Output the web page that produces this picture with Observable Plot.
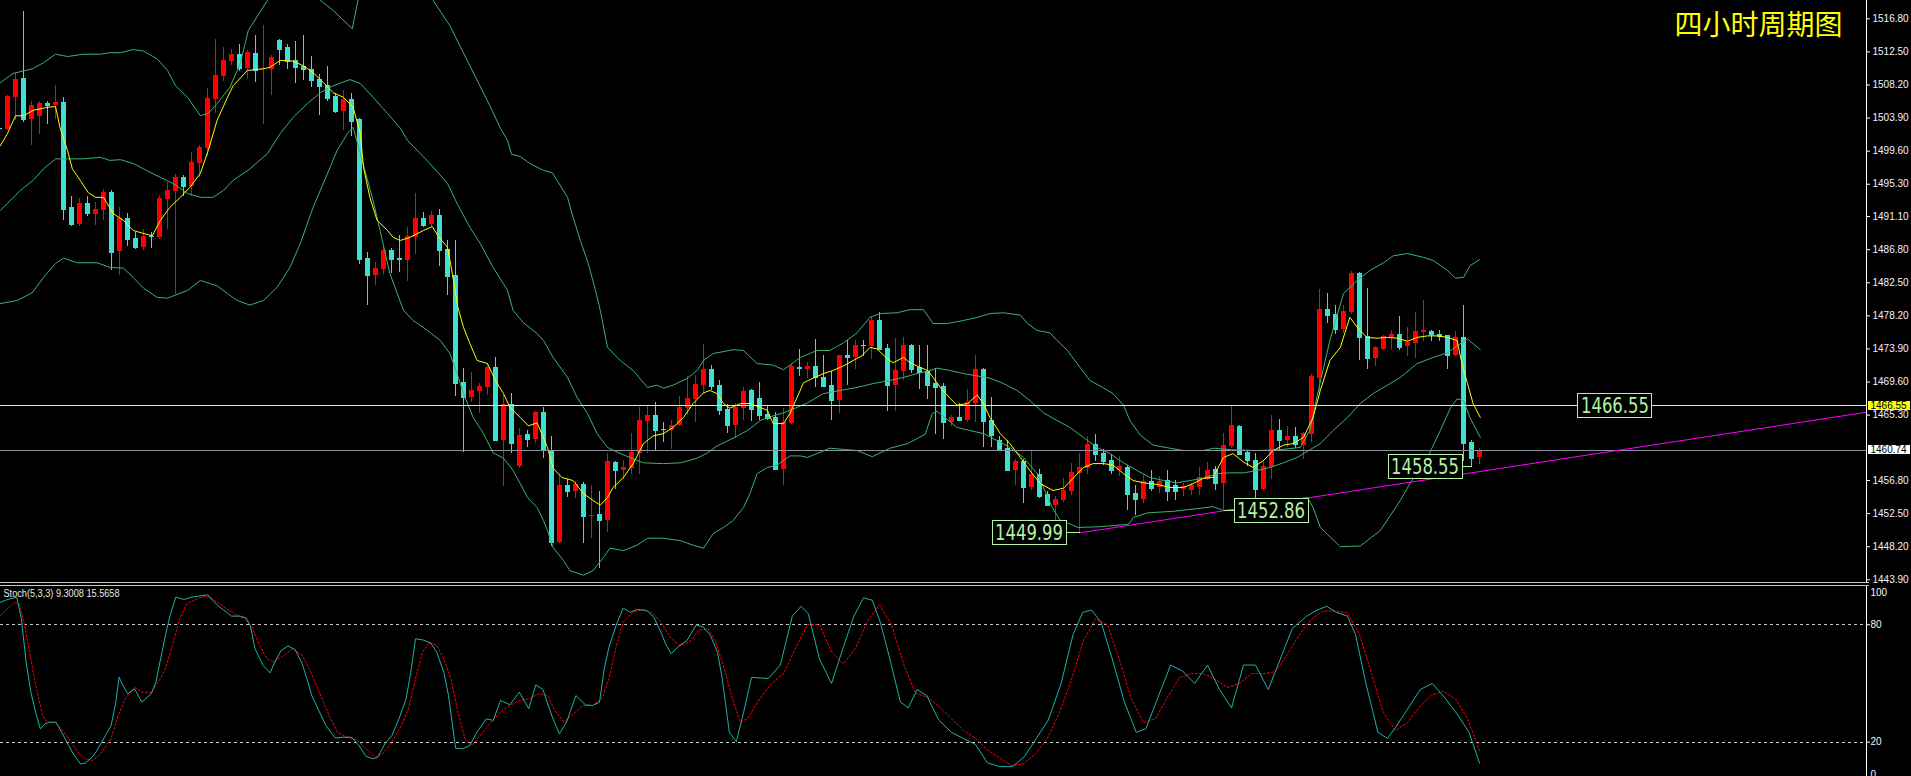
<!DOCTYPE html>
<html>
<head>
<meta charset="utf-8">
<script src="https://cdn.jsdelivr.net/npm/d3@7"></script>
<script src="https://cdn.jsdelivr.net/npm/@observablehq/plot@0.6"></script>
<style>
html, body { margin:0; padding:0; background:#000; overflow:hidden; }
#chart { width:1911px; height:776px; background:#000; position:relative; }
#chart svg { display:block; }
.sep { width:1869px; height:2px; border-top:1px solid #c8c8c8; border-bottom:1px solid #c8c8c8; }
</style>
</head>
<body>
<div id="chart"></div>
<script>
// ---------------- DATA ----------------
const titleText = "四小时周期图";
const stochTitle = "Stoch(5,3,3) 9.3008 15.5658";
const firstIndex = -1;
const opens = [1502.6,1502.4,1506.6,1509.0,1503.7,1504.1,1505.8,1505.5,1505.9,1492.3,1490.1,1492.8,1491.4,1491.9,1494.2,1486.6,1490.9,1488.3,1487.1,1488.55,1488.4,1493.3,1494.4,1496.2,1495.0,1498.0,1500.0,1506.3,1509.3,1511.3,1512.2,1510.3,1512.3,1510.2,1510.2,1514.0,1513.1,1511.4,1510.6,1510.2,1508.9,1508.1,1506.7,1504.8,1506.3,1503.7,1485.7,1483.4,1484.2,1486.7,1485.6,1485.4,1488.4,1490.9,1490.1,1491.2,1486.8,1483.4,1469.5,1467.6,1468.4,1468.9,1471.5,1462.0,1466.7,1458.6,1462.8,1462.1,1465.6,1460.7,1448.8,1456.2,1455.4,1456.3,1452.15,1452.4,1451.6,1459.1,1458.1,1458.4,1460.3,1464.5,1465.3,1463.45,1463.3,1464.0,1466.2,1467.3,1469.2,1471.2,1469.2,1466.0,1464.0,1466.2,1468.5,1467.5,1465.4,1465.0,1458.2,1464.2,1471.5,1471.2,1471.6,1470.2,1469.2,1467.2,1473.0,1472.8,1474.4,1474.2,1477.6,1474.0,1469.2,1471.0,1474.4,1471.5,1471.0,1469.4,1469.0,1464.3,1465.0,1464.6,1466.8,1471.2,1464.6,1462.0,1461.0,1458.1,1459.3,1455.9,1457.6,1455.0,1453.6,1454.2,1455.4,1457.7,1458.4,1461.5,1460.3,1459.4,1458.1,1458.5,1455.1,1454.3,1456.7,1455.9,1456.8,1456.2,1455.6,1455.5,1455.9,1456.9,1458.2,1456.4,1461.2,1463.8,1460.4,1459.4,1455.6,1458.5,1463.3,1462.0,1462.5,1461.4,1462.8,1470.1,1479.0,1478.4,1476.4,1478.6,1483.7,1475.5,1472.7,1473.8,1475.3,1475.8,1474.2,1474.6,1476.0,1476.2,1475.8,1475.65,1473.05,1475.4,1461.7,1459.8];
const highs = [1503.0,1506.8,1509.7,1517.8,1506.1,1506.1,1506.1,1508.1,1506.6,1493.7,1493.5,1493.7,1492.9,1494.6,1494.5,1492.3,1491.5,1489.0,1489.4,1489.0,1493.8,1495.5,1496.6,1496.4,1499.4,1500.3,1507.7,1514.1,1513.1,1512.8,1513.5,1512.7,1514.6,1515.9,1512.0,1514.1,1513.5,1513.9,1514.6,1511.9,1509.6,1510.6,1507.1,1507.5,1507.1,1503.8,1486.4,1485.1,1487.2,1487.0,1488.6,1489.7,1494.1,1491.6,1491.8,1492.0,1488.0,1488.0,1471.4,1470.8,1469.4,1472.0,1472.8,1467.9,1468.1,1463.6,1463.3,1465.8,1466.3,1462.5,1457.6,1456.9,1456.7,1456.5,1456.2,1455.4,1460.3,1459.3,1459.4,1462.9,1466.3,1466.6,1466.9,1464.3,1464.6,1467.7,1470.3,1470.5,1474.5,1471.8,1469.8,1466.7,1466.8,1468.9,1468.6,1469.5,1466.4,1465.6,1466.2,1471.9,1473.8,1472.1,1475.1,1473.1,1471.0,1473.1,1475.0,1475.0,1475.0,1478.1,1478.6,1474.5,1475.3,1475.4,1474.5,1474.4,1474.4,1471.4,1469.4,1465.3,1466.8,1468.6,1473.1,1471.4,1467.6,1462.5,1462.0,1459.5,1459.5,1460.6,1458.2,1455.4,1454.7,1457.1,1459.0,1460.3,1462.5,1462.8,1460.8,1460.2,1459.9,1458.8,1456.2,1457.5,1458.1,1457.3,1458.1,1456.8,1456.4,1456.4,1458.5,1459.1,1458.6,1462.9,1466.4,1464.0,1460.7,1460.3,1459.4,1465.3,1464.7,1463.8,1463.7,1463.0,1470.6,1481.6,1481.1,1479.6,1479.6,1483.9,1483.8,1481.8,1474.2,1475.6,1476.3,1478.1,1476.7,1478.6,1480.2,1476.3,1476.3,1475.7,1476.2,1479.6,1462.0,1461.0];
const lows = [1502.3,1502.3,1503.6,1503.3,1500.3,1501.8,1503.1,1503.7,1490.6,1489.8,1489.8,1491.1,1489.9,1490.6,1484.1,1483.4,1487.2,1486.8,1486.7,1487.0,1488.1,1489.4,1481.0,1493.7,1493.7,1496.2,1498.9,1504.5,1508.7,1510.7,1510.0,1508.9,1508.5,1503.1,1506.8,1510.7,1510.2,1508.4,1508.8,1507.9,1504.2,1506.1,1504.5,1502.3,1501.5,1484.9,1479.6,1482.1,1483.6,1483.7,1483.8,1482.7,1486.2,1489.7,1489.8,1484.6,1480.8,1467.7,1460.4,1466.9,1465.5,1467.9,1461.9,1456.0,1460.3,1458.4,1461.1,1461.6,1459.7,1448.2,1448.6,1454.6,1454.5,1448.6,1449.3,1445.4,1450.1,1455.6,1456.9,1457.6,1457.6,1460.3,1460.6,1461.7,1460.8,1463.8,1465.3,1464.3,1468.0,1468.5,1465.3,1462.9,1462.3,1464.6,1464.5,1464.6,1464.6,1458.1,1456.2,1464.1,1470.3,1470.1,1468.9,1468.9,1464.6,1465.5,1469.2,1471.2,1472.9,1472.5,1473.7,1465.8,1465.8,1469.8,1470.7,1468.6,1467.3,1462.8,1462.1,1463.8,1464.5,1464.3,1464.3,1461.1,1461.1,1460.6,1458.0,1456.2,1453.8,1455.5,1454.5,1453.4,1451.5,1454.0,1454.9,1449.99,1457.6,1459.3,1458.8,1457.6,1457.3,1452.9,1452.3,1453.8,1455.4,1455.1,1454.1,1454.2,1454.7,1454.9,1454.9,1456.8,1455.5,1452.86,1461.0,1460.1,1458.6,1453.7,1455.5,1456.9,1460.7,1461.1,1461.0,1459.5,1461.7,1468.1,1477.2,1475.8,1475.9,1478.4,1472.4,1471.2,1471.6,1473.7,1473.7,1473.7,1472.9,1472.7,1474.9,1474.9,1474.9,1471.2,1472.9,1459.3,1458.55,1458.9];
const closes = [1502.55,1506.7,1508.9,1503.7,1505.5,1505.8,1505.5,1505.9,1492.0,1490.1,1492.8,1491.5,1492.0,1494.2,1486.4,1490.9,1488.1,1487.1,1488.5,1488.45,1493.5,1494.5,1496.2,1495.0,1498.1,1500.1,1506.4,1509.4,1511.4,1512.2,1510.3,1512.4,1510.1,1510.35,1511.8,1512.8,1511.3,1510.5,1510.2,1508.8,1508.0,1506.4,1504.8,1506.3,1503.5,1485.5,1483.4,1484.4,1486.7,1485.5,1485.5,1488.5,1490.9,1489.9,1491.2,1486.7,1483.3,1469.4,1467.6,1468.5,1469.0,1471.5,1462.0,1466.7,1461.6,1462.7,1462.1,1465.6,1460.7,1448.8,1456.2,1455.4,1456.3,1452.1,1452.3,1451.6,1459.3,1458.1,1458.5,1460.4,1464.6,1465.3,1463.3,1463.4,1464.0,1466.3,1467.5,1469.3,1471.2,1469.0,1465.9,1464.0,1466.3,1468.4,1466.0,1465.3,1464.9,1458.2,1464.3,1471.6,1471.4,1471.6,1470.2,1469.0,1467.2,1473.05,1472.85,1474.4,1474.3,1477.6,1473.8,1469.2,1471.1,1474.4,1471.2,1470.8,1469.2,1468.9,1464.3,1465.0,1464.6,1466.9,1471.2,1464.5,1462.7,1460.8,1458.1,1459.3,1455.9,1457.6,1454.7,1453.6,1454.3,1455.5,1457.8,1458.5,1461.5,1460.2,1459.3,1458.1,1458.6,1455.0,1454.3,1456.7,1455.8,1456.7,1455.4,1455.4,1456.0,1456.2,1457.2,1458.1,1456.4,1461.4,1464.0,1460.2,1459.4,1455.6,1458.6,1463.3,1462.0,1462.5,1461.5,1462.9,1470.3,1479.0,1478.3,1476.4,1478.8,1483.7,1475.4,1472.7,1474.1,1475.5,1475.8,1474.1,1474.7,1476.2,1476.3,1475.8,1475.5,1473.05,1475.4,1461.6,1459.7,1460.74];

// Bollinger bands and moving average as [candle index, price]
const upperBand = [[-0.9,1508.5],[0.7,1509.7],[3.1,1510.3],[4.5,1511.1],[6,1512.2],[7.5,1511.9],[9.5,1512.2],[11.6,1512.2],[12.8,1512.4],[14.1,1512.4],[15.7,1512.8],[17,1512.6],[18.7,1511.6],[20,1510.1],[21,1508.1],[22.5,1506.6],[24.1,1504.2],[25.1,1504.5],[26.2,1505.8],[27.8,1507.9],[29.1,1511.0],[30.1,1515.3],[32.5,1519.2],[35,1524],[38.5,1521],[39.1,1519.2],[40.7,1517.9],[43.1,1515.5],[43.8,1519.2],[45,1523],[50,1526],[53.2,1519.2],[55.3,1515.9],[57.8,1510.7],[60.3,1505.5],[61.6,1502.6],[62.5,1501.0],[63,1499.2],[64.1,1498.9],[65.3,1498.0],[67,1497.1],[68.1,1496.8],[68.7,1495.8],[70,1493.6],[70.7,1491.0],[71.6,1488.0],[72.6,1485.0],[73.5,1481.5],[74.1,1478.9],[75,1474.1],[76.6,1472.4],[78.2,1471.1],[80,1468.9],[81.2,1469.2],[82,1468.8],[83.2,1469.2],[85,1470.1],[86.2,1471.1],[87,1472.4],[88.2,1473.3],[90.7,1473.8],[92,1473.7],[93.7,1472.0],[95.7,1471.8],[97,1471.2],[98.2,1472.1],[99.1,1472.8],[101.2,1473.7],[102.8,1473.7],[104.5,1474.7],[106.2,1476.0],[107.8,1478.0],[109.1,1478.5],[111.2,1478.6],[112.8,1479.0],[114.5,1479.0],[115.7,1477.2],[117.5,1477.2],[119.5,1477.6],[121.2,1478.0],[122.8,1478.5],[124.5,1478.6],[126.6,1478.3],[127.5,1477.2],[128.7,1476.3],[130.3,1476.0],[131.2,1475.0],[132.5,1473.7],[133.7,1472.0],[135.3,1469.8],[136.9,1468.9],[138.2,1468.1],[139.5,1466.6],[140.3,1464.6],[141.6,1462.7],[143.2,1461.4],[145.3,1461.0],[147,1460.7],[149.5,1460.7],[150.7,1461.0],[153,1460.8],[156,1460.7],[159,1460.8],[161.6,1461.1],[162.8,1463.3],[164,1469.2],[165.3,1475.0],[167,1481.1],[168.7,1482.8],[170.3,1484.1],[172,1485.1],[173.2,1486.0],[175,1486.3],[177,1485.8],[178.2,1485.4],[180,1484.1],[181,1483.1],[182,1483.2],[182.8,1484.7],[184,1485.5]];
const midBand = [[-0.9,1491.9],[1.6,1494.5],[3.2,1495.8],[4.5,1497.3],[6,1498.6],[7.5,1498.6],[9.5,1498.6],[11.6,1498.8],[12.8,1498.4],[14.1,1498.5],[15.7,1498.0],[17,1497.3],[19.1,1496.2],[20.7,1495.4],[22.5,1494.1],[24.1,1493.6],[25.7,1493.6],[27,1494.5],[28.2,1495.8],[30.3,1497.3],[32.5,1499.3],[34.1,1501.9],[35.7,1504.0],[37.5,1505.8],[39.1,1507.2],[40.7,1508.1],[42.8,1508.9],[44.1,1508.4],[45.7,1506.6],[47.5,1504.5],[49.1,1502.6],[50,1501.0],[52.8,1498.0],[55,1495.4],[56.2,1492.8],[57.8,1489.7],[59.1,1487.6],[60.7,1484.5],[62.5,1481.5],[63.2,1478.9],[64.5,1477.3],[66.2,1475.9],[67,1475.0],[68.2,1472.8],[70,1470.2],[71.2,1467.6],[72.5,1465.5],[73.7,1462.9],[75,1461.1],[76.6,1460.3],[79.5,1459.1],[82,1459.0],[84.1,1459.1],[86.2,1459.7],[87.5,1460.4],[88.7,1461.3],[90.7,1462.3],[92.5,1463.3],[94.1,1464.6],[95.7,1465.2],[97,1465.6],[98.7,1466.3],[100,1466.9],[102,1468.1],[104.1,1468.5],[106.2,1468.9],[108.2,1469.4],[110.3,1469.8],[112,1470.2],[113.7,1470.7],[115.3,1471.1],[116.2,1471.4],[117.8,1471.1],[119.5,1470.7],[121.2,1470.4],[122.8,1470.1],[124.5,1469.4],[126.2,1468.5],[127.8,1467.2],[129.5,1465.6],[131.2,1464.6],[132.8,1463.7],[134.5,1462.4],[136.2,1461.1],[137.8,1460.3],[139.5,1459.1],[141.2,1458.1],[142.8,1457.2],[144.5,1456.8],[146.2,1456.5],[147.8,1456.8],[149.5,1457.1],[151.2,1457.7],[152.8,1457.8],[154.5,1457.8],[156.2,1458.1],[157.8,1458.5],[159.5,1459.1],[161.2,1459.8],[164.1,1461.6],[165.7,1463.3],[167.5,1465.0],[169.1,1466.8],[170.7,1468.1],[172.5,1469.2],[174.1,1470.2],[176.2,1472.0],[178.2,1472.8],[180,1473.4],[181.2,1474.3],[182.5,1475.2],[184.1,1473.8]];
const lowerBand = [[-0.9,1479.8],[1.2,1480.2],[3.1,1481.2],[4.5,1483.2],[6,1485.0],[7,1485.7],[8.7,1485.1],[11.2,1485.1],[12.8,1484.5],[14.5,1484.4],[15.7,1483.2],[17,1481.8],[18.7,1480.6],[20,1480.5],[22.5,1481.5],[24.1,1482.8],[26.2,1482.1],[27.5,1481.1],[28.7,1480.2],[30.3,1479.6],[32,1480.2],[33.7,1481.9],[35.3,1484.5],[36.6,1487.6],[38.2,1492.3],[40,1496.7],[41.2,1499.7],[42.5,1501.9],[43.2,1502.7],[45.7,1493.2],[47.8,1483.7],[49.5,1478.9],[50.7,1477.6],[52.5,1476.3],[54.1,1475.0],[55.3,1473.3],[56.2,1470.7],[57,1468.1],[58.2,1465.0],[59.5,1462.9],[60.7,1460.4],[62,1459.7],[63.2,1458.1],[64.1,1456.4],[65,1454.6],[66.2,1453.3],[67,1451.6],[67.5,1450.3],[68.2,1448.1],[69.5,1446.4],[70.3,1445.1],[72,1444.5],[73.2,1445.1],[74.5,1446.8],[75.3,1448.0],[77,1447.7],[78.7,1448.4],[80,1449.3],[82,1449.3],[84.1,1449.0],[85.7,1448.4],[87,1448.0],[88.2,1449.9],[89.5,1450.7],[90.7,1451.6],[92,1453.3],[92.8,1455.1],[93.7,1457.7],[95,1458.5],[96.2,1458.8],[97.8,1460.0],[99.1,1460.0],[100,1459.8],[102.8,1461.0],[106.2,1460.7],[108.1,1459.9],[110.3,1461.0],[112.5,1461.6],[114.7,1462.8],[115.6,1465.5],[116.2,1465.8],[118.7,1463.7],[120.3,1463.3],[122,1462.9],[123.7,1462.0],[125.3,1461.1],[127,1459.8],[128.7,1457.7],[129.5,1455.9],[130.5,1453.5],[131.6,1451.6],[132.5,1451.3],[133.8,1450.7],[136.6,1450.8],[140,1451.1],[140.3,1451.3],[140.7,1452.0],[142.5,1452.6],[145.7,1452.8],[149.1,1453.2],[150.7,1453.4],[152,1452.9],[153.2,1453.0],[156.6,1453.6],[160.3,1454.2],[162.5,1454.6],[163.2,1453.3],[164.1,1450.7],[166.6,1448.2],[169.1,1448.3],[171.6,1450.3],[174.1,1454.2],[175.3,1456.4],[177.5,1459.8],[179.1,1463.3],[180.4,1466.3],[181.2,1467.4],[182,1467.2],[182.8,1465.0],[184.1,1462.4]];
const maLine = [[-0.9,1500.3],[0,1501.9],[1,1504.2],[2,1504.2],[3.2,1504.9],[5,1505.3],[6,1505.4],[6.6,1502.5],[7.5,1499.7],[8.1,1497.3],[9.1,1495.8],[10.1,1494.2],[11,1493.6],[12,1493.6],[13.2,1491.5],[14.5,1490.6],[15.7,1489.3],[17,1488.9],[18.1,1488.6],[19.1,1490.6],[20.3,1492.3],[21.6,1493.6],[22.8,1494.9],[24.1,1496.7],[25.1,1499.7],[26.2,1503.6],[27.5,1506.6],[28.2,1508.1],[30,1510.1],[32,1510.3],[32.8,1510.5],[34.1,1511.4],[35.7,1511.3],[37,1510.7],[38.2,1509.8],[39.5,1508.5],[40.7,1507.2],[42,1506.6],[43.2,1505.3],[44.1,1501.9],[44.5,1497.5],[45.3,1493.6],[46.2,1490.6],[47.5,1489.3],[48.2,1488.4],[49.1,1488.0],[50.3,1488.4],[52,1489.3],[53.1,1489.8],[53.8,1488.6],[55,1487.1],[55.6,1483.7],[56.3,1479.3],[57,1476.7],[57.8,1474.6],[58.7,1472.4],[60,1472.0],[61,1469.8],[62,1468.1],[62.8,1466.3],[64.1,1465.0],[65.1,1463.9],[66.2,1464.3],[67.5,1461.1],[68.2,1458.4],[69.3,1457.2],[70.7,1456.8],[72,1455.1],[73.2,1454.2],[74.1,1453.6],[75,1454.6],[75.7,1455.9],[77,1457.2],[78.2,1459.0],[79.5,1461.6],[80.7,1462.6],[82,1462.9],[83.2,1463.7],[84.5,1465.0],[85.7,1466.8],[87,1468.2],[87.8,1468.5],[88.7,1468.1],[89.5,1466.8],[90.3,1466.2],[91.6,1466.8],[92.8,1466.8],[94.1,1466.3],[95,1465.9],[95.7,1464.2],[97,1464.2],[97.8,1465.5],[98.7,1467.6],[99.5,1469.5],[100.7,1470.1],[102,1470.7],[103.2,1471.1],[104.5,1471.7],[105.7,1472.4],[106.8,1473.0],[107.8,1474.1],[108.7,1473.9],[110,1472.6],[110.7,1472.1],[112,1472.8],[112.8,1472.1],[114.1,1471.5],[115,1471.1],[115.7,1470.2],[116.6,1468.9],[117.8,1467.5],[118.7,1466.6],[120,1466.8],[121.2,1467.9],[122,1466.8],[122.8,1465.0],[124.1,1462.9],[125.3,1461.6],[126.6,1459.8],[127.8,1458.1],[129.1,1456.4],[130.7,1455.5],[132,1455.8],[133.2,1457.1],[134.5,1458.5],[135.7,1459.0],[137,1459.0],[138.2,1458.8],[139.5,1457.7],[140.7,1456.8],[142,1456.5],[143.7,1456.3],[145.3,1455.9],[147,1455.9],[148.2,1456.4],[149.5,1457.1],[150.7,1457.2],[152,1459.8],[153.2,1460.3],[154.5,1459.2],[155.7,1458.5],[157,1459.4],[158.2,1460.7],[159.5,1461.4],[160.7,1461.6],[162,1462.4],[163.2,1465.0],[164.1,1468.5],[165.3,1472.4],[166.6,1474.1],[167.8,1478.0],[168.8,1476.6],[169.9,1475.4],[171.2,1475.3],[172.5,1475.4],[173.7,1475.3],[175,1474.9],[176.2,1475.4],[177.5,1475.6],[178.7,1475.6],[180,1475.4],[181.2,1475.0],[181.8,1472.0],[182.5,1469.4],[183.2,1466.8],[184.1,1465.0]];

// Stochastic %K and %D (signal), read as [candle index, value]
const stochK = [[-0.91,91.5],[-0.32,92.4],[0.27,93.2],[1.15,94.0],[1.74,83.0],[2.33,60.9],[2.92,45.5],[3.51,35.3],[4.1,26.8],[4.69,29.3],[5.28,30.2],[6.05,30.2],[6.76,25.1],[7.64,18.3],[8.23,14.0],[9.12,8.9],[9.71,9.3],[10.59,12.3],[11.18,15.7],[11.77,20.0],[12.36,24.3],[12.95,28.5],[13.54,40.4],[13.95,53.2],[14.42,49.0],[15.02,44.7],[15.9,47.2],[16.78,40.4],[17.96,44.7],[18.55,50.6],[19.14,62.6],[19.73,74.5],[20.32,84.7],[21.03,94.1],[22.09,92.9],[22.98,94.1],[23.86,94.6],[25.04,95.3],[25.63,92.4],[26.52,89.0],[27.4,86.4],[27.99,84.4],[28.88,84.4],[29.76,83.4],[30.35,79.6],[30.94,67.7],[31.94,59.2],[32.83,55.4],[33.3,60.0],[34.19,66.8],[35.07,69.1],[35.96,67.3],[36.84,60.0],[37.43,52.4],[38.02,43.9],[38.91,36.2],[39.79,28.5],[40.97,22.1],[41.85,22.5],[43.03,22.5],[43.92,18.3],[44.8,12.8],[45.69,11.5],[46.28,12.3],[47.16,19.1],[48.05,23.4],[48.93,31.9],[49.82,42.1],[50.41,55.7],[51.0,72.8],[51.88,72.3],[52.89,70.7],[53.65,66.0],[54.54,55.7],[55.13,43.8],[56.01,16.9],[56.9,16.6],[57.78,18.3],[58.67,25.1],[59.85,31.9],[60.73,31.1],[61.62,41.3],[62.8,39.1],[63.98,45.6],[65.16,37.1],[66.04,49.3],[66.92,46.9],[68.1,32.8],[68.99,24.2],[69.87,30.2],[71.05,43.8],[72.24,39.1],[73.12,38.7],[74.0,40.4],[74.59,57.5],[75.18,68.5],[76.07,79.6],[76.95,88.5],[77.84,86.4],[78.72,87.8],[79.9,87.3],[80.79,83.9],[81.67,76.2],[82.26,70.2],[82.97,65.1],[83.74,68.5],[84.92,71.9],[86.1,79.9],[86.98,78.8],[87.87,74.5],[88.75,66.0],[89.34,52.4],[90.23,25.1],[91.11,20.3],[92.0,35.0],[93.0,53.1],[95.1,52.5],[96.6,59.4],[98.1,84.4],[99.2,89.4],[100.1,85.6],[101.5,62.5],[103.0,50.0],[104.5,68.8],[105.8,84.4],[107.0,93.8],[108.1,92.5],[109.1,81.3],[110.3,62.5],[111.6,40.6],[112.6,37.5],[113.7,46.9],[114.9,43.8],[116.4,31.3],[118.0,25.0],[119.5,21.9],[121.0,18.8],[122.5,9.4],[124.0,7.5],[125.6,7.5],[127.1,12.5],[128.6,21.9],[130.1,31.3],[131.7,50.0],[133.2,75.0],[134.4,86.3],[135.5,87.5],[136.7,81.3],[138.1,62.5],[139.6,40.6],[141.1,25.0],[142.3,26.9],[143.9,43.8],[145.4,59.4],[146.9,56.3],[148.4,50.0],[150.0,59.4],[151.5,46.9],[153.0,37.5],[154.5,59.4],[156.0,59.4],[157.6,46.9],[159.1,62.5],[160.6,78.1],[162.4,84.4],[163.7,87.5],[164.9,89.4],[166.1,86.3],[167.5,84.4],[168.5,75.0],[169.8,50.0],[171.3,25.0],[172.5,21.9],[173.6,28.1],[175.1,37.5],[176.6,46.9],[178.1,50.0],[179.7,42.5],[181.2,34.4],[182.7,25.0],[184,9.3]];
const stochD = [[-0.91,84.7],[-0.03,88.1],[0.86,91.5],[1.45,90.7],[2.04,81.3],[2.63,69.4],[3.22,55.7],[3.81,43.8],[4.4,33.6],[4.99,30.2],[6.05,29.9],[7.05,25.1],[7.94,20.0],[8.82,14.9],[9.71,11.5],[10.59,10.6],[11.48,13.2],[12.36,18.3],[12.95,21.7],[13.83,33.6],[14.72,42.1],[15.9,48.1],[16.78,45.5],[17.96,45.5],[18.85,50.6],[19.73,57.4],[20.62,69.4],[21.5,83.0],[22.39,90.7],[23.27,92.4],[24.45,94.6],[25.34,94.1],[26.22,91.5],[27.4,88.1],[28.58,85.1],[29.76,83.9],[30.65,77.9],[31.53,69.4],[32.42,62.6],[33.3,60.9],[34.48,64.3],[35.66,67.7],[36.84,64.3],[37.73,57.5],[38.61,49.0],[39.49,40.4],[40.38,31.9],[41.26,25.1],[42.44,22.5],[43.62,21.4],[44.8,16.6],[45.98,12.3],[46.87,14.0],[48.05,20.0],[49.23,28.5],[50.11,37.0],[51.0,52.4],[51.88,66.0],[52.77,71.1],[53.65,69.4],[54.54,62.6],[55.42,52.4],[56.31,35.3],[57.19,21.7],[58.08,18.3],[59.26,24.2],[60.44,30.2],[61.62,35.3],[62.8,38.7],[63.98,41.3],[65.16,42.1],[66.34,44.7],[67.51,43.8],[68.4,36.2],[69.58,30.2],[70.76,34.5],[71.94,38.7],[73.12,38.7],[74.3,42.1],[75.18,52.4],[76.07,68.5],[76.95,81.3],[78.13,86.4],[79.31,87.6],[80.49,86.4],[81.67,81.3],[82.85,73.6],[84.03,69.4],[85.21,71.1],[86.39,77.1],[87.57,77.9],[88.46,72.0],[89.34,60.9],[90.52,43.8],[91.58,30.2],[92.5,32],[94,42],[95.5,50],[97,55],[98.5,68],[100,80],[101.5,80],[103,66],[104.5,60],[106,68],[107.5,82],[109,90],[110.5,80],[112,60],[113.5,45],[115,43],[116.5,38],[118,32],[119.5,26],[121,22],[122.5,16],[124,12],[125.5,8],[127,9],[128.5,14],[130,22],[131.5,35],[133,52],[134.5,72],[136,83],[137.5,80],[139,62],[140.5,42],[142,30],[143.5,32],[145,43],[146.5,53],[148,55],[149.5,55],[151,52],[152.5,48],[154,50],[155.5,55],[157,55],[158.5,56],[160,65],[161.5,75],[163,83],[164.5,87],[166,87],[167.5,86],[169,75],[170.5,55],[172,35],[173.5,26],[175,30],[176.5,38],[178,44],[179.5,46],[181,42],[182.5,32],[184,15.6]];

// annotations
const yTicks = [1516.80,1512.50,1508.20,1503.90,1499.60,1495.30,1491.10,1486.80,1482.50,1478.20,1473.90,1469.60,1465.30,1456.80,1452.50,1448.20,1443.90];
const stochTicks = [80, 20];
const stochTop = [100];
const stochBottom = [0];
const levelPrice = 1466.55;     // yellow horizontal line
const bidPrice = 1460.74;       // grey current-price line
const trendAnchors = [[134, 1449.99], [152, 1452.86]]; // magenta trend line (ray)
const labelIndex = [134, 152, 183, 196.31];
const labelPrice = [1449.99, 1452.86, 1458.55, 1466.55];
const labelSide = ["left", "right", "left", "right"];

// ---------------- LAYOUT / STYLE ----------------
const W = 1911, H_MAIN = 582, H_STOCH = 190, PLOT_RIGHT = 1866;
const xDomain = [(0 - 7) / 8, (PLOT_RIGHT - 7) / 8];
const yDomain = [1443.55, 1519.18];
const stochDomain = [2.45, 99.54];
const UP = "#ff0000", DOWN = "#40e0d0", BAND = "#3cb371", MA = "#ffff00";
const LABEL_GREEN = "#b4f2a4";
const labelGap = [13.5, 10.5, 9.5, 0];
const FONT = "'Liberation Sans', Arial, sans-serif";
const AXIS_TEXT = "#f0f4ff";

const candles = opens.map((o, k) => ({i: firstIndex + k, o, h: highs[k], l: lows[k], c: closes[k]}));
const candleColor = d => d.c >= d.o ? UP : DOWN;
const xy = {x: d => d[0], y: d => d[1]};

// extend the trend line ray to the right edge of the plot
const slope = (trendAnchors[1][1] - trendAnchors[0][1]) / (trendAnchors[1][0] - trendAnchors[0][0]);
const trendLine = [trendAnchors[0], [xDomain[1], trendAnchors[0][1] + slope * (xDomain[1] - trendAnchors[0][0])]];

const labelMarks = labelIndex.map((li, k) => Plot.text([k], {
  x: () => li, y: () => labelPrice[k], text: () => labelPrice[k].toFixed(2),
  textAnchor: labelSide[k] === "left" ? "end" : "start",
  dx: labelSide[k] === "left" ? -(labelGap[k] + 3) : (labelGap[k] + 3),
  fill: LABEL_GREEN, fontSize: 22,
  fontFamily: "'Liberation Sans Narrow', 'DejaVu Sans Condensed', sans-serif",
  ariaLabel: () => "pricebox-" + k
}));

const main = Plot.plot({
  width: W, height: H_MAIN,
  marginTop: 0, marginBottom: 0, marginLeft: 0, marginRight: W - PLOT_RIGHT,
  style: {background: "#000", color: "#fff", fontFamily: FONT, fontSize: "10px", overflow: "visible"},
  x: {domain: xDomain, axis: null},
  y: {domain: yDomain, label: null},
  marks: [
    Plot.ruleX(candles, {x: "i", y1: "l", y2: "h", stroke: candleColor, strokeWidth: 1, shapeRendering: "crispEdges"}),
    Plot.ruleX(candles, {x: "i", y1: "o", y2: "c", stroke: candleColor, strokeWidth: 5, shapeRendering: "crispEdges"}),
    Plot.ruleY(candles, {y: "c", x1: d => d.i - 0.3125, x2: d => d.i + 0.3125, stroke: candleColor, shapeRendering: "crispEdges"}),
    Plot.line(upperBand, {...xy, stroke: BAND, strokeWidth: 1, clip: true}),
    Plot.line(midBand, {...xy, stroke: BAND, strokeWidth: 1, clip: true}),
    Plot.line(lowerBand, {...xy, stroke: BAND, strokeWidth: 1, clip: true}),
    Plot.line(maLine, {...xy, stroke: MA, strokeWidth: 1, clip: true}),
    Plot.ruleY([levelPrice], {stroke: "#ffff00", shapeRendering: "crispEdges"}),
    Plot.ruleY([bidPrice], {stroke: "#8a909c", shapeRendering: "crispEdges"}),
    Plot.line(trendLine, {...xy, stroke: "#ff00ff", strokeWidth: 1, clip: true}),
    ...labelMarks,
    Plot.ruleX([xDomain[1]], {stroke: "#ffffff", shapeRendering: "crispEdges"}),
    Plot.axisY({anchor: "right", ticks: yTicks, tickFormat: d => d.toFixed(2), tickSize: 3, tickPadding: 3, label: null, fill: AXIS_TEXT}),
    Plot.text([levelPrice], {frameAnchor: "right", y: d => d, text: d => d.toFixed(2), textAnchor: "start", dx: 4, fill: "#000", fontSize: 10, ariaLabel: () => "axisbox-level"}),
    Plot.text([bidPrice], {frameAnchor: "right", y: d => d, text: d => d.toFixed(2), textAnchor: "start", dx: 4, fill: "#000", fontSize: 10, ariaLabel: () => "axisbox-bid"}),
    Plot.text([titleText], {text: d => d, frameAnchor: "top-right", textAnchor: "end", lineAnchor: "top", dx: -24, dy: 15, fill: "#ffff00", fontSize: 28, fontFamily: "'Noto Sans CJK SC', sans-serif"})
  ]
});

const stoch = Plot.plot({
  width: W, height: H_STOCH,
  marginTop: 0, marginBottom: 0, marginLeft: 0, marginRight: W - PLOT_RIGHT,
  style: {background: "#000", color: "#fff", fontFamily: FONT, fontSize: "10px"},
  x: {domain: xDomain, axis: null},
  y: {domain: stochDomain, label: null},
  marks: [
    Plot.ruleY(stochTicks, {stroke: "#c8c8c8", strokeDasharray: "3,3", shapeRendering: "crispEdges"}),
    Plot.line(stochD, {...xy, stroke: "#ff0000", strokeWidth: 1, strokeDasharray: "2,2", clip: true}),
    Plot.line(stochK, {...xy, stroke: "#20b2aa", strokeWidth: 1, clip: true}),
    Plot.ruleX([xDomain[1]], {stroke: "#ffffff", shapeRendering: "crispEdges"}),
    Plot.axisY({anchor: "right", ticks: stochTicks, tickSize: 3, tickPadding: 1, label: null, fill: AXIS_TEXT}),
    Plot.text(stochTop, {frameAnchor: "right", y: d => d, text: d => String(d), textAnchor: "start", lineAnchor: "top", dx: 4, dy: 3, fill: AXIS_TEXT, fontSize: 10}),
    Plot.text(stochBottom, {frameAnchor: "right", y: d => d, text: d => String(d), textAnchor: "start", lineAnchor: "bottom", dx: 4, dy: -3, fill: AXIS_TEXT, fontSize: 10}),
    Plot.text([stochTitle], {text: d => d, frameAnchor: "top-left", textAnchor: "start", lineAnchor: "top", dx: 3, dy: 3, fill: "#e6e6e6", fontSize: 10, ariaLabel: () => "stoch-title"})
  ]
});

const root = document.getElementById("chart");
root.appendChild(main);
const sep = document.createElement("div"); sep.className = "sep"; root.appendChild(sep);
root.appendChild(stoch);

// -------- post-processing: boxes behind annotation texts --------
const NS = "http://www.w3.org/2000/svg";
function textsFor(svg, label) {
  const out = [];
  svg.querySelectorAll(`[aria-label="${label}"]`).forEach(el => {
    if (el.tagName.toLowerCase() === "text") out.push(el);
    else el.querySelectorAll("text").forEach(t => out.push(t));
  });
  return out;
}
function boxify(svg, label, o) {
  textsFor(svg, label).forEach(t => {
    if (o.textWidth) { t.setAttribute("textLength", o.textWidth); t.setAttribute("lengthAdjust", "spacingAndGlyphs"); }
    const b = t.getBBox();
    const r = document.createElementNS(NS, "rect");
    const x0 = b.x - o.padX, w = b.width + 2 * o.padX;
    const y0 = b.y - o.padY, h = b.height + 2 * o.padY;
    r.setAttribute("x", x0); r.setAttribute("y", y0);
    r.setAttribute("width", w); r.setAttribute("height", h);
    r.setAttribute("fill", o.fill); r.setAttribute("stroke", o.stroke || "none");
    r.setAttribute("shape-rendering", "crispEdges");
    const tr = t.getAttribute("transform"); if (tr) r.setAttribute("transform", tr);
    t.parentNode.insertBefore(r, t);
    if (o.gap) {
      const l = document.createElementNS(NS, "line");
      const ex = o.side === "left" ? x0 + w : x0;
      const cy = y0 + h / 2;
      l.setAttribute("x1", ex); l.setAttribute("x2", o.side === "left" ? ex + o.gap : ex - o.gap);
      l.setAttribute("y1", cy); l.setAttribute("y2", cy);
      l.setAttribute("stroke", o.stroke); l.setAttribute("shape-rendering", "crispEdges");
      if (tr) l.setAttribute("transform", tr);
      t.parentNode.insertBefore(l, t);
    }
  });
}
labelIndex.forEach((li, k) => boxify(main, "pricebox-" + k, {padX: 3, padY: -0.5, fill: "#000", stroke: LABEL_GREEN, gap: labelGap[k], side: labelSide[k], textWidth: 68}));
boxify(main, "axisbox-level", {padX: 3, padY: -1, fill: "#ffff00"});
boxify(main, "axisbox-bid", {padX: 3, padY: -1, fill: "#ffffff"});
textsFor(stoch, "stoch-title").forEach(t => { t.setAttribute("textLength", 116); t.setAttribute("lengthAdjust", "spacingAndGlyphs"); });
</script>
</body>
</html>
